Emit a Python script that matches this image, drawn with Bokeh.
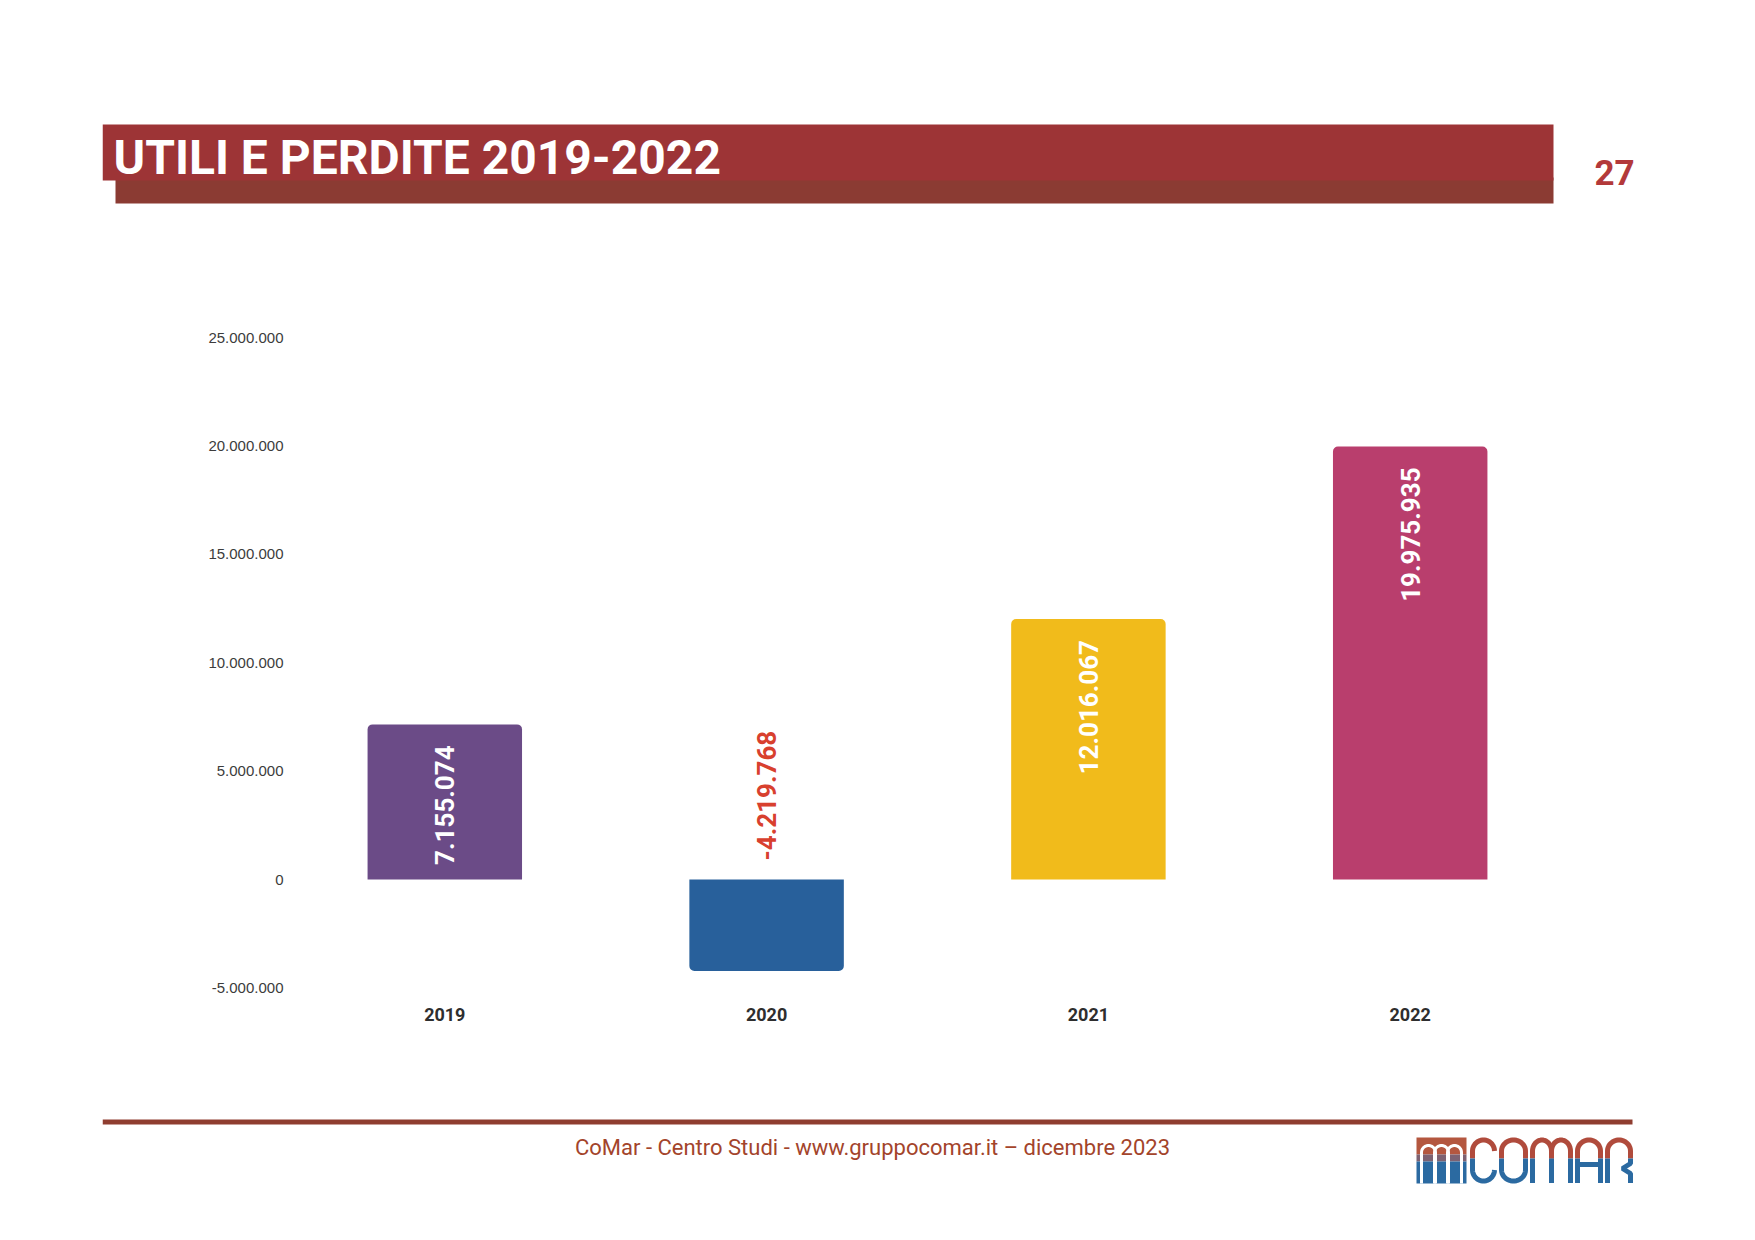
import math
import numpy as np
from bokeh.plotting import figure
from bokeh.models import (ColumnDataSource, FixedTicker, Range1d, FactorRange,
                          LinearAxis, CategoricalAxis)
from bokeh.core.properties import value
from bokeh.embed import file_html
from bokeh.resources import INLINE

# ---------------- data ----------------
years = ["2019", "2020", "2021", "2022"]
results = [7155074, -4219768, 12016067, 19975935]
result_labels = ["7.155.074", "-4.219.768", "12.016.067", "19.975.935"]
bar_colors = ["#6b4b87", "#28609b", "#f1bb1b", "#b93e6d"]
y_ticks = [-5000000, 0, 5000000, 10000000, 15000000, 20000000, 25000000]
y_tick_labels = ["-5.000.000", "0", "5.000.000", "10.000.000",
                 "15.000.000", "20.000.000", "25.000.000"]
title_text = "UTILI E PERDITE 2019-2022"
page_number = "27"
footer_text = "CoMar - Centro Studi - www.gruppocomar.it \u2013 dicembre 2023"

# ---------------- layout constants (screen pixels) ----------------
W, H = 1752, 1236
FRAME_LEFT = 102
SPACING = 321.8                       # screen px per category
PAD = ((W - FRAME_LEFT) / SPACING - len(years)) / 2
ZERO_Y = 879                          # screen y of value 0
PX_PER_UNIT = 21.68 / 1e6
FONT = value("Roboto")


def sx(v):
    """screen x (px) -> synthetic categorical coordinate"""
    if isinstance(v, (list, tuple, np.ndarray)):
        return [float((a - FRAME_LEFT) / SPACING - PAD) for a in v]
    return float((v - FRAME_LEFT) / SPACING - PAD)


p = figure(width=W, height=H,
           x_range=FactorRange(factors=years, range_padding=PAD,
                               range_padding_units="absolute"),
           y_range=Range1d(-(H - ZERO_Y) / PX_PER_UNIT, ZERO_Y / PX_PER_UNIT),
           output_backend="svg", toolbar_location=None,
           x_axis_location=None, y_axis_location=None,
           min_border_left=FRAME_LEFT, min_border_right=0,
           min_border_top=0, min_border_bottom=0)
p.extra_y_ranges = {"py": Range1d(H, 0)}
p.grid.visible = False
p.outline_line_color = None
p.background_fill_color = "white"
p.border_fill_color = "white"

D = dict(y_range_name="py")

# ---------------- header ----------------
p.quad(left=[sx(115)], right=[sx(1553)], top=[177], bottom=[203],
       fill_color="#8b3b33", line_color=None, **D)
p.quad(left=[sx(102)], right=[sx(1553)], top=[124], bottom=[180],
       fill_color="#9d3436", line_color=None, **D)
p.text(x=[sx(113)], y=[157], text=[title_text], text_font=FONT,
       text_font_style="bold", text_font_size="48px", text_color="white",
       text_align="left", text_baseline="middle", **D)
p.text(x=[sx(1594)], y=[172], text=[page_number], text_font=FONT,
       text_font_style="bold", text_font_size="35px", text_color="#b3393a",
       text_align="left", text_baseline="middle", **D)

# ---------------- bars ----------------
pos = [i for i, v in enumerate(results) if v >= 0]
neg = [i for i, v in enumerate(results) if v < 0]
src_pos = ColumnDataSource(dict(
    year=[years[i] for i in pos], val=[results[i] for i in pos],
    color=[bar_colors[i] for i in pos], label=[result_labels[i] for i in pos]))
src_neg = ColumnDataSource(dict(
    year=[years[i] for i in neg], val=[results[i] for i in neg],
    base=[0 for i in neg],
    color=[bar_colors[i] for i in neg], label=[result_labels[i] for i in neg]))

p.vbar(x="year", top="val", bottom=0, width=0.48, fill_color="color",
       line_color=None, source=src_pos, border_radius=(5, 5, 0, 0))
p.vbar(x="year", top="val", bottom=0, width=0.48, fill_color="color",
       line_color=None, source=src_neg, border_radius=(0, 0, 5, 5))

p.text(x="year", y="val", text="label", source=src_pos, angle=math.pi / 2,
       text_align="right", text_baseline="middle", y_offset=21,
       text_color="white", text_font=FONT, text_font_style="bold",
       text_font_size="26px")
p.text(x="year", y="base", text="label", source=src_neg, angle=math.pi / 2,
       text_align="left", text_baseline="middle", y_offset=-19,
       text_color="#d8402e", text_font=FONT, text_font_style="bold",
       text_font_size="26px")

# ---------------- axes ----------------
xa = CategoricalAxis(y_range_name="py", fixed_location=995)
xa.axis_line_color = None
xa.major_tick_line_color = None
xa.minor_tick_line_color = None
xa.major_tick_out = 0
xa.major_tick_in = 0
xa.major_label_standoff = 12
xa.major_label_text_font = "Roboto"
xa.major_label_text_font_style = "bold"
xa.major_label_text_font_size = "18px"
xa.major_label_text_color = "#2e2e2e"
p.add_layout(xa, "below")

ya = LinearAxis(fixed_location=sx(285), ticker=FixedTicker(ticks=y_ticks))
ya.major_label_overrides = {t: l for t, l in zip(y_ticks, y_tick_labels)}
ya.axis_line_color = None
ya.major_tick_line_color = None
ya.minor_tick_line_color = None
ya.major_tick_out = 0
ya.major_tick_in = 0
ya.major_label_standoff = 2
ya.major_label_text_font = "Liberation Sans"
ya.major_label_text_font_size = "15px"
ya.major_label_text_color = "#3c3c3c"
p.add_layout(ya, "left")

# ---------------- footer ----------------
p.quad(left=[sx(102)], right=[sx(1632)], top=[1119], bottom=[1124],
       fill_color="#8f3d30", line_color=None, **D)
p.text(x=[sx(872)], y=[1147], text=[footer_text], text_font=FONT,
       text_font_size="22px", text_color="#a3442b",
       text_align="center", text_baseline="middle", **D)

# ---------------- logo ----------------
RED, BLUE = "#b04b3c", "#2b6aa1"
p.quad(left=[sx(1416)], right=[sx(1466)], top=[1137], bottom=[1154],
       fill_color="#b4573f", line_color=None, **D)
p.quad(left=[sx(1416)], right=[sx(1466)], top=[1154], bottom=[1161],
       fill_color="#7d6272", line_color=None, **D)
p.quad(left=[sx(1416)], right=[sx(1466)], top=[1161], bottom=[1183],
       fill_color=BLUE, line_color=None, **D)


def upper_arch(x0, x1, ys, yt, r, left_leg=True, right_leg=True, n=20):
    cx, rx = (x0 + x1) / 2, (x1 - x0) / 2
    th = np.linspace(math.pi, 0, n)
    xs = list(cx + rx * np.cos(th))
    yv = list((yt + r) - r * np.sin(th))
    if left_leg:
        xs, yv = [x0] + xs, [ys] + yv
    if right_leg:
        xs, yv = xs + [x1], yv + [ys]
    return xs, yv


def lower_arch(x0, x1, ys, yb, r, left_leg=True, right_leg=True, n=20):
    cx, rx = (x0 + x1) / 2, (x1 - x0) / 2
    th = np.linspace(math.pi, 0, n)
    xs = list(cx + rx * np.cos(th))
    yv = list((yb - r) + r * np.sin(th))
    if left_leg:
        xs, yv = [x0] + xs, [ys] + yv
    if right_leg:
        xs, yv = xs + [x1], yv + [ys]
    return xs, yv


def add(lst_x, lst_y, pts):
    lst_x.append(sx(list(pts[0])))
    lst_y.append([float(v) for v in pts[1]])


# white arches of the icon
ix, iy = [], []
for cx in (1428, 1441, 1454):
    add(ix, iy, upper_arch(cx - 7, cx + 7, 1183, 1145, 7))
p.multi_line(ix, iy, line_color="white", line_width=3, **D)

SPLIT, TOP, BOT, R = 1158, 1139.5, 1180.5, 11
reds_x, reds_y, blues_x, blues_y = [], [], [], []

# C
add(reds_x, reds_y, upper_arch(1472, 1494, SPLIT, TOP, R, right_leg=False))
add(blues_x, blues_y, lower_arch(1472, 1494, SPLIT, BOT, R, right_leg=False))
# O
add(reds_x, reds_y, upper_arch(1501, 1525, SPLIT, TOP, R))
add(blues_x, blues_y, lower_arch(1501, 1525, SPLIT, BOT, R))
# M
add(reds_x, reds_y, upper_arch(1532, 1551, SPLIT, TOP, R))
add(reds_x, reds_y, upper_arch(1551, 1570, SPLIT, TOP, R))
for lx in (1532, 1551, 1570):
    add(blues_x, blues_y, ([lx, lx], [SPLIT, BOT + 2]))
# A
add(reds_x, reds_y, upper_arch(1577, 1600, SPLIT, TOP, R))
for lx in (1577, 1600):
    add(blues_x, blues_y, ([lx, lx], [SPLIT, BOT + 2]))
add(blues_x, blues_y, ([1577, 1600], [1164, 1164]))
# R
add(reds_x, reds_y, upper_arch(1607, 1630, SPLIT, TOP, R))
add(blues_x, blues_y, ([1607, 1607], [SPLIT, BOT + 2]))
add(blues_x, blues_y, ([1630, 1630, 1622, 1630, 1630],
                       [SPLIT, 1163, 1168, 1173, BOT + 2]))

p.multi_line(reds_x, reds_y, line_color=RED, line_width=5, **D)
p.multi_line(blues_x, blues_y, line_color=BLUE, line_width=5, **D)

open("out.html", "w").write(file_html(p, INLINE))
